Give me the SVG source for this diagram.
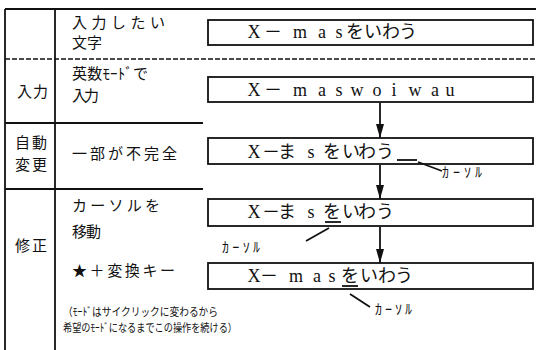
<svg xmlns="http://www.w3.org/2000/svg" width="536" height="350" viewBox="0 0 536 350">
<style>
.fr{stroke:#111;stroke-width:1.8;fill:none}
.dash{stroke:#111;stroke-width:1.6;stroke-dasharray:5 2;fill:none}
.box{fill:#fff;stroke:#111;stroke-width:1.8}
.lb{font-family:"Noto Sans CJK JP",sans-serif;font-size:15px;fill:#111}
.sm{font-family:"Noto Sans CJK JP",sans-serif;font-size:11px;fill:#111}
.cur{font-family:"Noto Sans CJK JP",sans-serif;font-size:14px;fill:#111}
.bx{font-family:"Liberation Serif","Noto Sans CJK JP",serif;font-size:18px;fill:#111;text-anchor:middle}
.ln{stroke:#111;stroke-width:1.8;fill:none}
.ar{stroke:#111;stroke-width:1.8;fill:none;marker-end:url(#ah)}
</style>
<defs>
<marker id="ah" markerUnits="userSpaceOnUse" markerWidth="14" markerHeight="8" viewBox="0 0 14 8" refX="14" refY="4" orient="auto">
<path d="M0,0 L14,4 L0,8 z" fill="#111"/>
</marker>
</defs>
<rect width="536" height="350" fill="#fff"/>
<g id="frame">
<line class="fr" x1="5" y1="9" x2="536" y2="9"/>
<line class="fr" x1="5" y1="9" x2="5" y2="350"/>
<line class="fr" x1="55" y1="9" x2="55" y2="350"/>
<line class="dash" x1="5" y1="59" x2="536" y2="59"/>
<line class="fr" x1="5" y1="123" x2="203" y2="123"/>
<line class="fr" x1="5" y1="189" x2="203" y2="189"/>
</g>
<g id="row-labels">
<text class="lb" x="17" y="97" textLength="31">入力</text>
<text class="lb" x="15" y="148" textLength="32">自動</text>
<text class="lb" x="15" y="170" textLength="32">変更</text>
<text class="lb" x="15" y="251" textLength="32">修正</text>
</g>
<g id="step-labels">
<text class="lb" x="72" y="28" textLength="93">入力したい</text>
<text class="lb" x="72" y="48" textLength="30">文字</text>
<text class="lb" x="72" y="79" textLength="76">英数ﾓｰﾄﾞで</text>
<text class="lb" x="72" y="101" textLength="27">入力</text>
<text class="lb" x="72" y="159" textLength="105">一部が不完全</text>
<text class="lb" x="72" y="211" textLength="88">カーソルを</text>
<text class="lb" x="72" y="237" textLength="29">移動</text>
<text class="lb" x="72" y="276" textLength="103">★＋変換キー</text>
<text class="sm" x="63" y="316" textLength="155" lengthAdjust="spacingAndGlyphs">（ﾓｰﾄﾞはサイクリックに変わるから</text>
<text class="sm" x="63" y="332" textLength="174" lengthAdjust="spacingAndGlyphs">希望のﾓｰﾄﾞになるまでこの操作を続ける）</text>
</g>
<g id="box1">
<rect class="box" x="208" y="20" width="325" height="25"/>
<text class="bx" x="254 273 300 322 339 355 373 391 408" y="38">X－masをいわう</text>
</g>
<g id="box2">
<rect class="box" x="208" y="77" width="325" height="25"/>
<text class="bx" x="254 273 300 322 339 357 377 394 415 435 450" y="96">X－maswoiwau</text>
</g>
<g id="box3">
<rect class="box" x="208" y="138" width="325" height="26"/>
<text class="bx" x="254 271 287 311 332 351 367 385" y="158">X－まsをいわう</text>
<line class="ln" x1="397" y1="160" x2="417" y2="160"/>
</g>
<g id="box4">
<rect class="box" x="208" y="199" width="325" height="27"/>
<text class="bx" x="254 271 287 311 332 351 367 385" y="218">X－まsをいわう</text>
<line class="ln" x1="325" y1="222" x2="341" y2="222"/>
</g>
<g id="box5">
<rect class="box" x="208" y="263" width="325" height="26"/>
<text class="bx" x="254 269 296 317 332 350 369 387 404" y="282">X－masをいわう</text>
<line class="ln" x1="342" y1="286" x2="358" y2="286"/>
</g>
<g id="cursor-labels">
<text class="cur" x="442" y="177" textLength="40">ｶｰｿﾙ</text>
<text class="cur" x="222" y="252" textLength="38">ｶｰｿﾙ</text>
<text class="cur" x="375" y="314" textLength="37">ｶｰｿﾙ</text>
</g>
<g id="connectors">
<line class="ar" x1="380" y1="103" x2="380" y2="138"/>
<line class="ar" x1="380" y1="165" x2="380" y2="199"/>
<line class="ar" x1="380" y1="227" x2="380" y2="263"/>
<line class="ln" x1="418" y1="162" x2="442" y2="171"/>
<line class="ln" x1="329" y1="228" x2="306" y2="241"/>
<line class="ln" x1="350" y1="294" x2="370" y2="307"/>
</g>
</svg>
